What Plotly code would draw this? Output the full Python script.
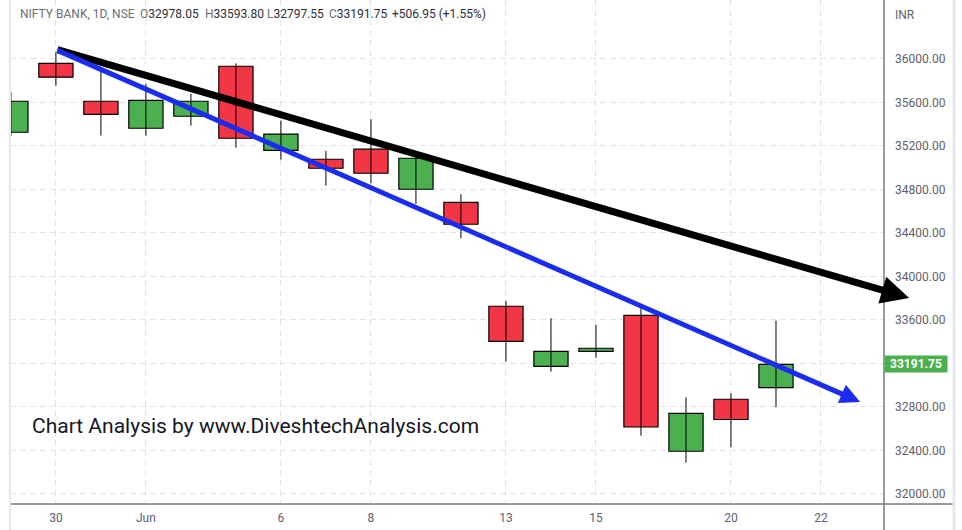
import plotly.graph_objects as go

# daily candles, NIFTY BANK (27 May - 21 Jun)
dates = ["May 27", "May 30", "May 31", "Jun 1", "Jun 2", "Jun 3", "Jun 6", "Jun 7", "Jun 8",
         "Jun 9", "Jun 10", "Jun 13", "Jun 14", "Jun 15", "Jun 16", "Jun 17", "Jun 20", "Jun 21"]
opens = [35326, 35960, 35611, 35363, 35473, 35933, 35160, 35078, 35170,
         34802, 34682, 33726, 33174, 33312, 33643, 32393, 32871, 32978.05]
highs = [35697, 36060, 35899, 35770, 35678, 35960, 35433, 35154, 35446,
         35130, 34756, 33775, 33616, 33554, 33710, 32889, 32926, 33593.80]
lows = [35292, 35754, 35295, 35295, 35387, 35184, 35074, 34835, 34857,
        34667, 34351, 33217, 33125, 33253, 32536, 32288, 32429, 32797.55]
closes = [35611, 35832, 35491, 35620, 35611, 35271, 35308, 34995, 34949,
          35087, 34480, 33404, 33312, 33340, 32616, 32742, 32684.80, 33191.75]

tick_idx = [1, 3, 6, 8, 11, 13, 16, 18]
tick_txt = ["30", "Jun", "6", "8", "13", "15", "20", "22"]
price_ticks = [32000, 32400, 32800, 33200, 33600, 34000, 34400, 34800, 35200, 35600, 36000]

# trend lines (x = trading-day index, y = price)
black_x = [1, 19.96]
black_y = [36090, 33802]
blue_x = [1, 18.87]
blue_y = [36085, 32846]

last_price = closes[-1]

GREEN = "#4caf50"
RED = "#f23645"

idx = list(range(len(dates)))

fig = go.Figure()

# wicks
wx, wy = [], []
for i in idx:
    wx += [i, i, None]
    wy += [lows[i], highs[i], None]
fig.add_trace(go.Scatter(x=wx, y=wy, mode="lines", line=dict(color="black", width=1),
                         hoverinfo="skip", showlegend=False))

# bodies
for up, col in [(True, GREEN), (False, RED)]:
    xs = [i for i in idx if (closes[i] >= opens[i]) == up]
    fig.add_trace(go.Bar(
        x=xs,
        y=[abs(closes[i] - opens[i]) for i in xs],
        base=[min(opens[i], closes[i]) for i in xs],
        width=0.76,
        marker=dict(color=col, line=dict(color="black", width=1.2)),
        showlegend=False,
    ))

W, H = 962, 530
L, R, T, B = 10, 78, 0, 26
pw = W - L - R
ph = H - T - B


def px(x):
    return (x - L) / pw


def py(y):
    return (H - B - y) / ph


annotations = [
    dict(x=black_x[1], y=black_y[1], ax=black_x[0], ay=black_y[0], xref="x", yref="y",
         axref="x", ayref="y", text="", showarrow=True, arrowhead=2, arrowsize=0.8,
         arrowwidth=7, arrowcolor="black", standoff=0),
    dict(x=blue_x[1], y=blue_y[1], ax=blue_x[0], ay=blue_y[0], xref="x", yref="y",
         axref="x", ayref="y", text="", showarrow=True, arrowhead=2, arrowsize=0.8,
         arrowwidth=5, arrowcolor="#1a2cf0", standoff=0),
    dict(x=px(30), y=py(426), xref="paper", yref="paper", xanchor="left", yanchor="middle",
         text="Chart Analysis by www.DiveshtechAnalysis.com", showarrow=False,
         font=dict(family="Roboto", size=21, color="#131722")),
    dict(x=1, y=last_price, xref="paper", yref="y", xanchor="left", yanchor="middle",
         text="<b>%.2f</b>" % last_price, showarrow=False, bgcolor=GREEN,
         width=60, height=14, borderpad=1, align="center",
         font=dict(family="Roboto", size=12, color="white")),
    dict(x=px(893), y=py(15), xref="paper", yref="paper", xanchor="left", yanchor="middle",
         text="INR", showarrow=False, font=dict(family="Roboto", size=12, color="#5d606b")),
]

grey = "#6a6d78"
dark = "#2a2e39"
chg = closes[-1] - closes[-2]
header = [
    (18, "NIFTY BANK, 1D, NSE", grey),
    (138, "O<span style='color:%s'>%.2f</span>" % (dark, opens[-1]), grey),
    (203, "H<span style='color:%s'>%.2f</span>" % (dark, highs[-1]), grey),
    (265, "L<span style='color:%s'>%.2f</span>" % (dark, lows[-1]), grey),
    (327, "C<span style='color:%s'>%.2f</span>" % (dark, closes[-1]), grey),
    (390, "+%.2f (+%.2f%%)" % (chg, chg / closes[-2] * 100), dark),
]
for x0, txt, col in header:
    annotations.append(dict(x=px(x0), y=py(14), xref="paper", yref="paper", xanchor="left",
                            yanchor="middle", text=txt, showarrow=False,
                            font=dict(family="Roboto", size=12, color=col)))

axis_col = "#787b86"
shapes = [
    # bottom axis line across into price scale
    dict(type="line", xref="paper", yref="paper", x0=px(10), x1=px(953), y0=0, y1=0,
         line=dict(color=axis_col, width=1.5)),
    # price scale border, full height
    dict(type="line", xref="paper", yref="paper", x0=1, x1=1, y0=py(530), y1=1,
         line=dict(color=axis_col, width=1.5)),
    # light frame edges
    dict(type="line", xref="paper", yref="paper", x0=px(10), x1=px(10), y0=py(530), y1=1,
         line=dict(color="#e6e8ef", width=2)),
    dict(type="line", xref="paper", yref="paper", x0=px(954), x1=px(954), y0=py(530), y1=1,
         line=dict(color="#e6e8ef", width=3)),
]

# the 33200 label sits under the last-price tag
price_txt = ["" if v == 33200 else "%.2f" % v for v in price_ticks]

fig.update_layout(
    width=W, height=H,
    margin=dict(l=L, r=R, t=T, b=B),
    paper_bgcolor="white", plot_bgcolor="white",
    barmode="overlay",
    showlegend=False,
    annotations=annotations,
    shapes=shapes,
    font=dict(family="Roboto", size=12, color="#5d606b"),
)
fig.update_xaxes(
    range=[-0.02, 19.4],
    tickvals=tick_idx, ticktext=tick_txt,
    showgrid=True, gridcolor="#e0e3eb", griddash="6px,4px", gridwidth=1,
    zeroline=False, showline=False, ticks="", ticklabelstandoff=5,
    tickfont=dict(family="Roboto", size=12, color="#5d606b"),
)
fig.update_yaxes(
    side="right",
    range=[31908, 36542],
    tickvals=price_ticks, ticktext=price_txt,
    showgrid=True, gridcolor="#e0e3eb", griddash="6px,4px", gridwidth=1,
    zeroline=False, showline=False, ticks="", ticklabelstandoff=10,
    tickfont=dict(family="Roboto", size=12, color="#5d606b"),
)

fig.write_html("out.html", config={"displayModeBar": False},
               post_script="document.body.style.margin='0px';")
